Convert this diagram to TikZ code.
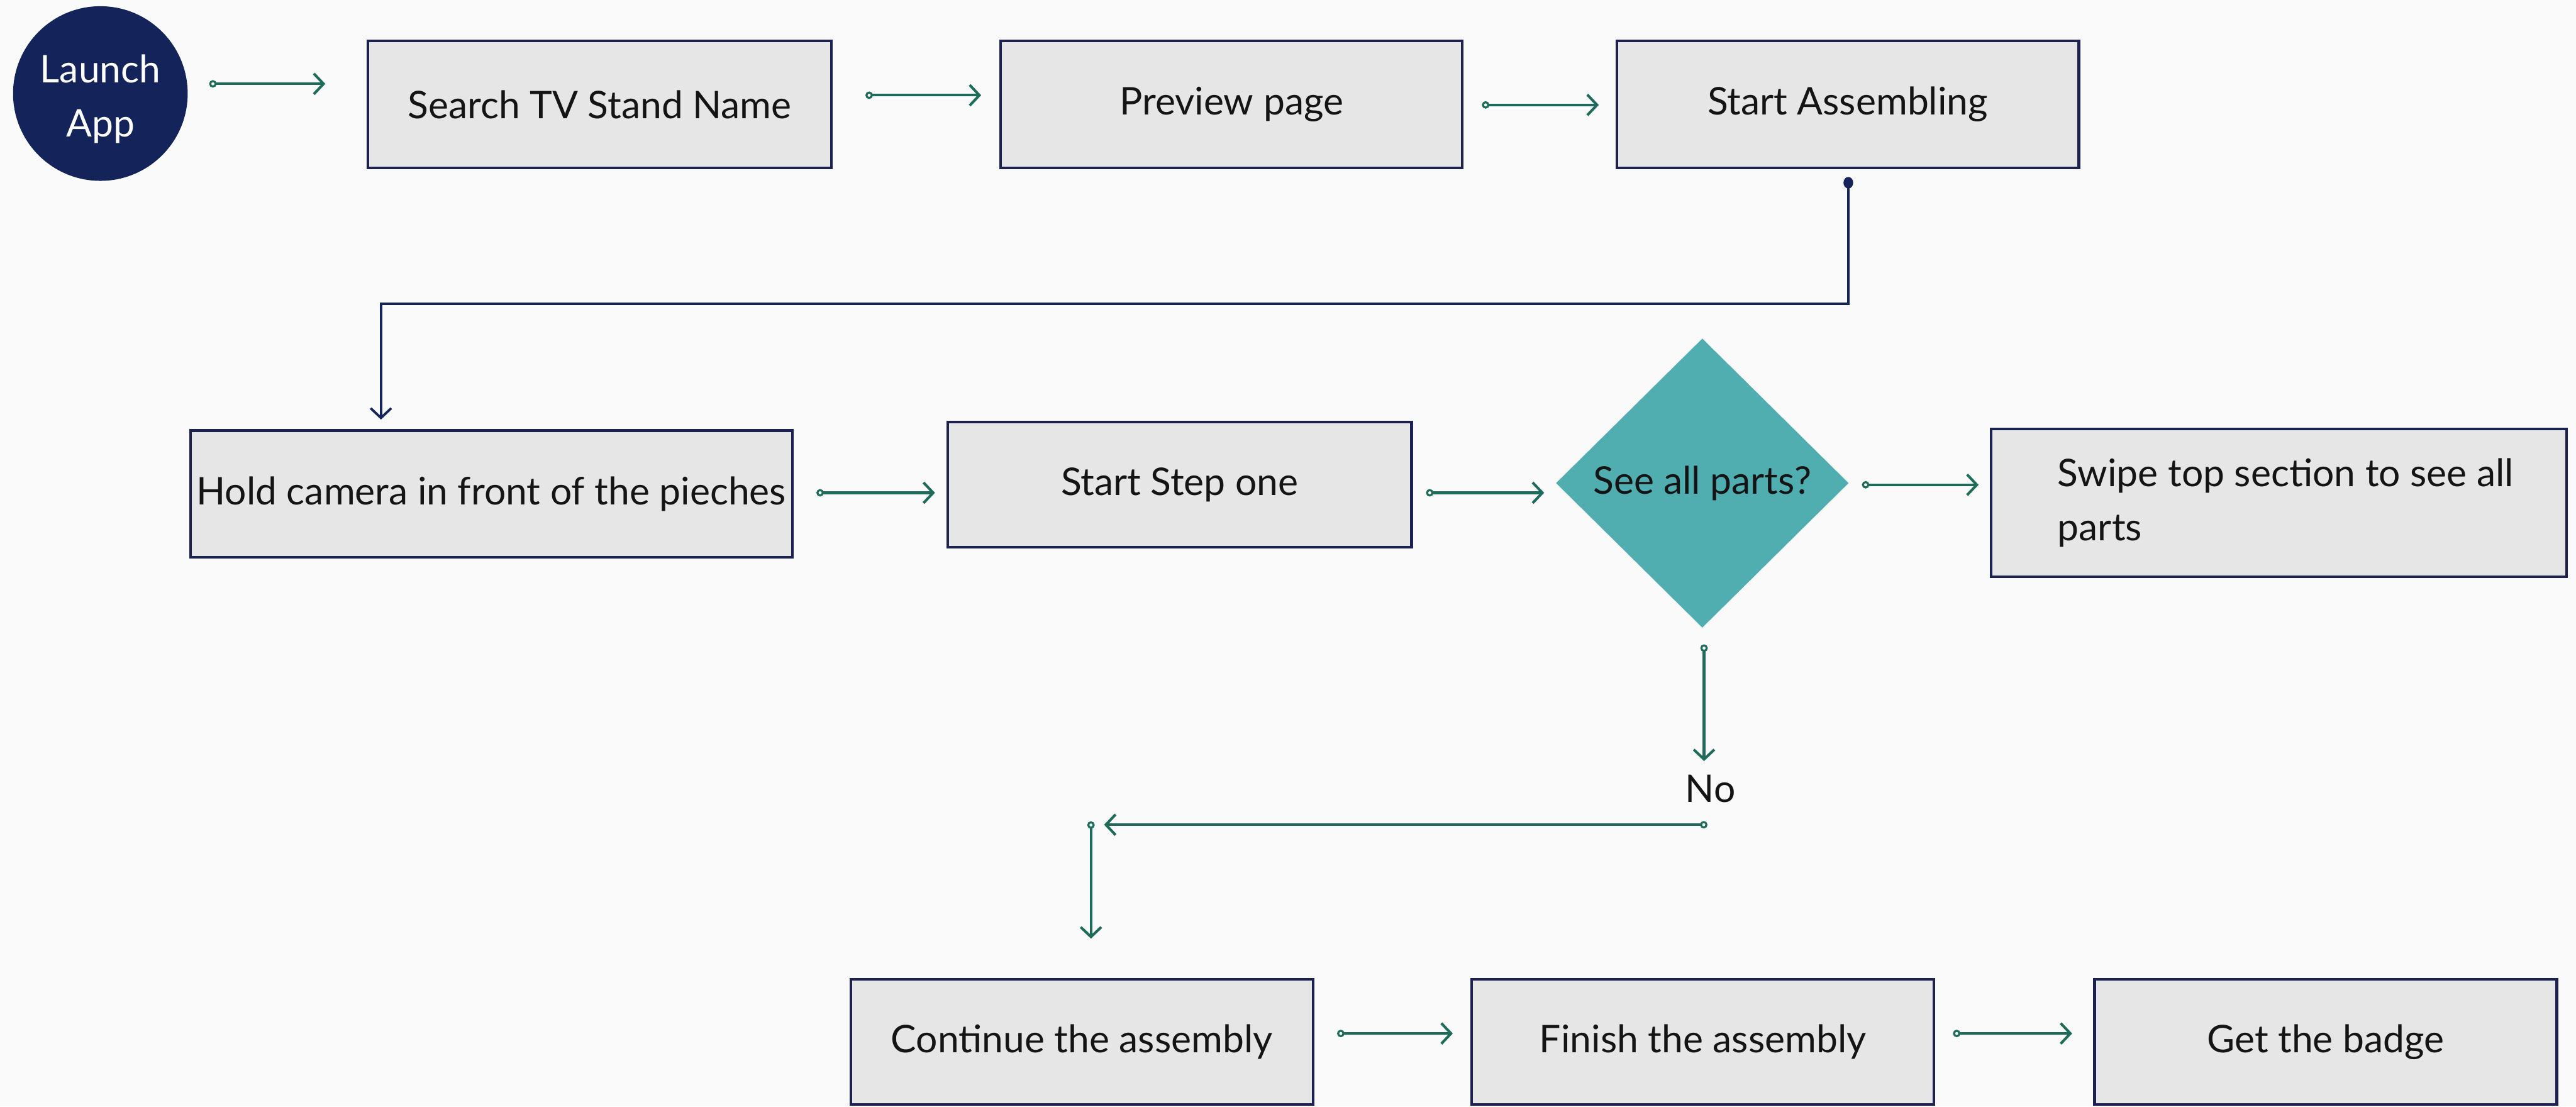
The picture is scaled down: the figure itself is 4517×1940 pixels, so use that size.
\documentclass[tikz,border=0pt]{standalone}
\usepackage{fontspec}
\setmainfont{Lato}
\usetikzlibrary{arrows.meta,shapes.geometric,calc}
\definecolor{bgc}{HTML}{FAFAFA}
\definecolor{navy}{HTML}{14245A}
\definecolor{boxfill}{HTML}{E6E6E6}
\definecolor{boxline}{HTML}{1C2150}
\definecolor{decfill}{HTML}{50ADB0}
\definecolor{flowgreen}{HTML}{1F6B5A}
\definecolor{ink}{HTML}{141414}

\begin{document}
\begin{tikzpicture}[x=0.01cm,y=-0.01cm,
  every node/.style={font=\fontsize{19}{27}\selectfont, text=ink},
  stepbox/.style={draw=boxline, fill=boxfill, line width=1.3pt, inner sep=0pt, anchor=center},
  flow/.style={draw=flowgreen, line width=1.3pt,
    {Circle[open,length=1.3mm,width=1.3mm,line width=1pt]}-{Straight Barb[length=1.7mm,width=3.6mm,line width=1.3pt]}},
  navyflow/.style={draw=navy, line width=1.2pt,
    {Circle[length=2.0mm,width=1.7mm]}-{Straight Barb[length=1.7mm,width=3.6mm,line width=1.2pt]}},
]
% page and background
\fill[bgc] (0,0) rectangle (4517,1940);
\useasboundingbox (0,0) rectangle (4517,1940);

% start point
\node[circle, fill=navy, minimum size=3.06cm, inner sep=0pt] (launch) at (176,164) {};
\node[align=center, text=white, inner sep=0pt] (launchtext) at ($(launch.center)+(0,10)$) {Launch\\App};

% first row
\node[stepbox, minimum width=8.13cm, minimum height=2.22cm] (search) at (1051.5,183) {Search TV Stand Name};
\node[stepbox, minimum width=8.09cm, minimum height=2.22cm] (preview) at (2159.5,183) {Preview page};
\node[stepbox, minimum width=8.10cm, minimum height=2.22cm] (assemble) at (3240,183) {Start Assembling};

% second row
\node[stepbox, minimum width=10.55cm, minimum height=2.22cm] (hold) at (861.5,866) {Hold camera in front of the pieches};
\node[stepbox, minimum width=8.13cm, minimum height=2.19cm] (stepone) at (2068.5,849.5) {Start Step one};
\node[diamond, fill=decfill, inner sep=0pt, minimum width=5.13cm, minimum height=5.07cm] (decide) at (2985,847) {See all parts?};
\node[stepbox, minimum width=10.08cm, minimum height=2.59cm] (swipe) at (3996,881.5) {};
\node[anchor=west, align=left, inner sep=0pt] (swipetext) at ($(swipe.west)+(118,0)$)
  {Swipe top section to see all\\parts};

% decision outcome
\node (nolabel) at (2999,1383) {No};
\coordinate (noR) at (2988,1446);
\coordinate (noL) at (1913,1446);

% third row
\node[stepbox, minimum width=8.10cm, minimum height=2.19cm] (continue) at (1897,1826.5) {Continue the assembly};
\node[stepbox, minimum width=8.10cm, minimum height=2.19cm] (finish) at (2986,1826.5) {Finish the assembly};
\node[stepbox, minimum width=8.10cm, minimum height=2.19cm] (badge) at (4078,1826.5) {Get the badge};

% connectors
\draw[flow] ($(launch.east)+(37,-17)$) -- ($(search.west)+(-72,-36)$);
\draw[flow] ($(search.east)+(57,-16)$) -- ($(preview.west)+(-32,-16)$);
\draw[flow] ($(preview.east)+(32,1)$) -- ($(assemble.west)+(-29,1)$);
\draw[navyflow] ($(assemble.south)+(1,14)$) -- ++(0,222) -| ($(hold.north)+(-193.5,-17)$);
\draw[flow] ($(hold.east)+(40,-2)$) -- ($(stepone.west)+(-20,14.5)$);
\draw[flow] ($(stepone.east)+(23,14.5)$) -- ($(decide.west)+(-20,17)$);
\draw[flow] ($(decide.east)+(22.5,3)$) -- ($(swipe.west)+(-20,-31.5)$);
\draw[flow] ($(decide.south)+(3,28.5)$) -- ($(nolabel.north)+(-11,-12)$);
\draw[flow] ($(noR)+(6,0)$) -- ($(noL)+(23,0)$);
\draw[flow] ($(noL)+(0,-6)$) -- ($(continue.north)+(16,-69)$);
\draw[flow] ($(continue.east)+(40,-14.5)$) -- ($(finish.west)+(-31,-14.5)$);
\draw[flow] ($(finish.east)+(31,-14.5)$) -- ($(badge.west)+(-37,-14.5)$);
\end{tikzpicture}
\end{document}
